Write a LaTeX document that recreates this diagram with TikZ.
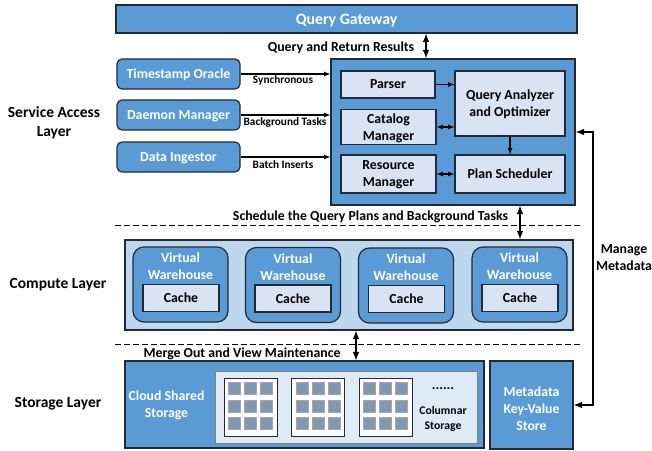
\documentclass[tikz,border=0pt]{standalone}
\usepackage{fontspec}
\setmainfont{Carlito}
\definecolor{midblue}{HTML}{5B9BD5}
\definecolor{paleblue}{HTML}{DAE3F3}
\definecolor{skyblue}{HTML}{BDD7EE}
\definecolor{iceblue}{HTML}{DEEBF7}
\definecolor{cellgray}{HTML}{8497B0}
\definecolor{edgegray}{HTML}{222A35}

\begin{document}
\begin{tikzpicture}
  [x=1pt,y=-1pt,>=latex,
   every node/.style={font=\bfseries\fontsize{13.8}{17}\selectfont,align=center,inner sep=0pt,text depth=0pt},
   blue box/.style={draw=edgegray,line width=1.2pt,fill=midblue,text=white},
   pale box/.style={draw=edgegray,line width=1.1pt,fill=paleblue,text=black},
   round box/.style={blue box,rounded corners=5pt,minimum width=123pt,minimum height=30pt},
   ware box/.style={blue box,rounded corners=11pt,minimum width=95pt,minimum height=75pt},
   cache box/.style={pale box,minimum width=76pt,minimum height=27pt},
   grid box/.style={draw=edgegray,line width=1pt,fill=white,minimum width=53pt,minimum height=58pt},
   cell/.style={draw=gray!70,line width=.6pt,fill=cellgray,minimum size=12pt},
   small label/.style={font=\bfseries\fontsize{11.3}{13}\selectfont},
   layer label/.style={font=\bfseries\fontsize{15.5}{19}\selectfont},
   link/.style={->,line width=1.2pt},
   both link/.style={<->,line width=1.2pt},
   wide link/.style={<->,line width=1.9pt},
   layer line/.style={line width=1pt,dash pattern=on 5.5pt off 3.5pt}]
  \useasboundingbox (0,0) rectangle (652,450);

  \node[blue box,minimum width=461pt,minimum height=28pt,font=\bfseries\fontsize{15.8}{18}\selectfont] (gateway) at (346.5,19) {Query Gateway};
  \node[blue box,minimum width=244pt,minimum height=146pt] (main) at (453,132) {};
  \node[round box] (oracle) at (178.5,74) {Timestamp Oracle};
  \node[round box] (daemon) at (178.5,115) {Daemon Manager};
  \node[round box] (ingestor) at (178.5,157) {Data Ingestor};
  \node[pale box,minimum width=94pt,minimum height=27pt] (parser) at (388,84.5) {Parser};
  \node[pale box,minimum width=95pt,minimum height=35pt] (catalog) at (388.5,127) {Catalog\\Manager};
  \node[pale box,minimum width=95pt,minimum height=38pt] (resource) at (388.5,174) {Resource\\Manager};
  \node[pale box,minimum width=110pt,minimum height=65pt] (analyzer) at (510,103.5) {Query Analyzer\\and Optimizer};
  \node[pale box,minimum width=110pt,minimum height=38pt] (scheduler) at (510,174) {Plan Scheduler};

  \node[draw=edgegray,line width=1.1pt,fill=skyblue,minimum width=448pt,minimum height=90pt] (compute) at (349,285) {};
  \foreach \name/\x/\y in {wa/180.5/284.5,wb/293/285,wc/406/285.5,wd/519.5/284.5}
    \node[ware box] (\name) at (\x,\y) {};
  \foreach \name/\x/\y in {wa/180.5/284.5,wb/293/285,wc/406/285.5,wd/519.5/284.5}
    \node[text=white] at (\x,\y-18) {Virtual\\Warehouse};
  \foreach \name/\x/\y in {ca/181/298,cb/293/298.5,cc/406.5/299,cd/520/298}
    \node[cache box] (\name) at (\x,\y) {Cache};

  \node[blue box,minimum width=359pt,minimum height=87pt] (storage) at (304.5,404.5) {};
  \node[draw=gray,line width=1pt,fill=iceblue,minimum width=262pt,minimum height=72pt] (columns) at (346,407) {};
  \node[text=white] (cloud) at (166.5,404.5) {Cloud Shared\\Storage};
  \foreach \name/\x in {ga/250.5,gb/318,gc/385.5} {
    \node[grid box] (\name) at (\x,407) {};
    \foreach \dx in {-16,0,16}
      \foreach \y in {388.5,406,423.5}
        \node[cell] at (\x+\dx,\y) {};
  }
  \node at (443,389) {......};
  \node[font=\bfseries\fontsize{11.7}{15}\selectfont] at (443,418) {Columnar\\Storage};
  \node[blue box,minimum width=83pt,minimum height=88pt] (meta) at (531.5,405) {};
  \node[text=white] (metatext) at (531.5,409) {Metadata\\Key-Value\\Store};

  % layer names
  \node[layer label] at (54,122) {Service Access\\Layer};
  \node[layer label] at (58,283.5) {Compute Layer};
  \node[layer label] at (58,402.5) {Storage Layer};

  \coordinate (dashaw) at (115,225);
  \coordinate (dashae) at (581,225);
  \coordinate (dashbw) at (115,344);
  \coordinate (dashbe) at (583,344);
  \draw[layer line] (dashaw) -- (dashae);
  \draw[layer line] (dashbw) -- (dashbe);

  % connectors
  \coordinate (xgate) at (426,0);
  \coordinate (xplan) at (520,0);
  \coordinate (xmerge) at (356,0);
  \coordinate (xmeta) at (593,0);
  \foreach \from in {oracle,daemon,ingestor}
    \draw[link] (\from.east) -- (\from.east -| main.west);
  \draw[link] (parser.east) -- (parser.east -| analyzer.west);
  \draw[link] (analyzer.south) -- (scheduler.north);
  \draw[both link] (catalog.east) -- (catalog.east -| analyzer.west);
  \draw[both link] (resource.east) -- (scheduler.west);
  \draw[wide link] (gateway.south -| xgate) -- (main.north -| xgate);
  \draw[wide link] (main.south -| xplan) -- (compute.north -| xplan);
  \draw[wide link] (compute.south -| xmerge) -- (storage.north -| xmerge);
  \draw[wide link] (main.east) -- (main.east -| xmeta) -- (meta.east -| xmeta) -- (meta.east);

  \node at (341,46.5) {Query and Return Results};
  \node[small label] (sync) at (283,79.5) {Synchronous};
  \node[small label] (tasks) at (285,121.5) {Background Tasks};
  \node[small label] (batch) at (283,164.5) {Batch Inserts};
  \node at (370.5,216) {Schedule the Query Plans and Background Tasks};
  \node at (242,352.5) {Merge Out and View Maintenance};
  \node at (624,257.5) {Manage\\Metadata};
\end{tikzpicture}
\end{document}
